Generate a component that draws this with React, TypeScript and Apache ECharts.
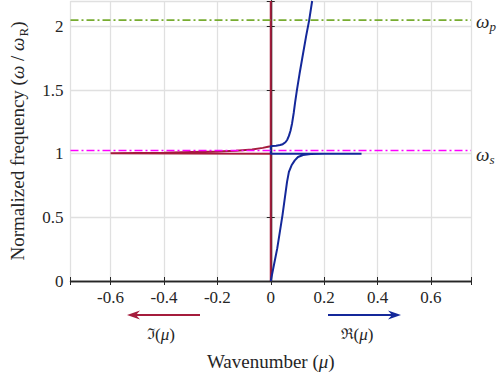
import React, { useEffect, useRef } from "react";
import * as echarts from "echarts";

// Wavenumber (x) and normalized frequency (y) samples
const redMu = [0, 0, -0.6, -0.4, -0.3, -0.2, -0.13, -0.07, -0.03, -0.01, 0, 0];
const redOmega = [0, 0.999, 1.003, 1.008, 1.013, 1.018, 1.023, 1.034, 1.046, 1.054, 1.058, 2.2];

const blueMu = [0, 0.0245, 0.044, 0.061, 0.068, 0.078, 0.09, 0.102, 0.121, 0.15, 0.2, 0.34, 0, 0, 0.006, 0.02, 0.035, 0.045, 0.055, 0.062, 0.068, 0.074, 0.08, 0.086, 0.091, 0.098, 0.108, 0.118, 0.133, 0.144, 0.155];
const blueOmega = [0, 0.258, 0.518, 0.779, 0.857, 0.909, 0.948, 0.974, 0.99, 0.997, 0.999, 1.0, 1.0, 1.058, 1.06, 1.063, 1.068, 1.075, 1.09, 1.11, 1.14, 1.18, 1.24, 1.32, 1.4, 1.5, 1.63, 1.75, 1.93, 2.05, 2.2];

const xRange = [-0.75, 0.75];
const yRange = [0, 2.2];
const omegaP = 2.05;
const omegaS = 1.025;

const RED = "#a51c3c";
const BLUE = "#14289a";
const GREEN = "#77ac30";
const MAGENTA = "#ff00ff";
const AXIS = "#262626";
const FONT = "Liberation Serif";

const zip = (a: number[], b: number[]) => a.map((v, i) => [v, b[i]]);

export default function App() {
  const ref = useRef<HTMLDivElement>(null);
  useEffect(() => {
    const chart = echarts.init(ref.current!, undefined, { renderer: "svg" });
    const xFmt = (v: number) => (Math.abs(v) > 0.7 ? "" : String(Math.round(v * 10) / 10));
    const yFmt = (v: number) => (v > 2.1 ? "" : String(v));
    const baseX = {
      type: "value",
      min: xRange[0],
      max: xRange[1],
      splitNumber: 7,
      minInterval: 0.2,
      maxInterval: 0.2,
      axisLine: { show: true, lineStyle: { color: AXIS, width: 1.3 } },
      axisTick: { show: true, inside: true, length: 4, lineStyle: { color: AXIS } },
    };
    const baseY = {
      type: "value",
      min: yRange[0],
      max: yRange[1],
      splitNumber: 5,
      minInterval: 0.5,
      maxInterval: 0.5,
      axisLine: { show: true, lineStyle: { color: AXIS, width: 1.3 } },
      axisTick: { show: true, inside: true, length: 4, lineStyle: { color: AXIS } },
    };
    const sym = {
      fontFamily: FONT,
      fontSize: 17,
      fill: AXIS,
    };
    const omegaRich = {
      i: { fontFamily: FONT, fontSize: 19, fontStyle: "italic", fill: AXIS },
      s: { fontFamily: FONT, fontSize: 13, fontStyle: "italic", fill: AXIS, padding: [10, 0, 0, 0] },
    };
    chart.setOption({
      animation: false,
      textStyle: { fontFamily: FONT },
      grid: { left: 60, top: 1, width: 411, height: 282, containLabel: false },
      xAxis: [
        {
          ...baseX,
          position: "bottom",
          axisLabel: { formatter: xFmt, color: AXIS, fontFamily: FONT, fontSize: 17, margin: 8 },
          splitLine: { show: true, lineStyle: { color: "#e0e0e0", width: 1.3 } },
          name: "{t|Wavenumber (}{i|μ}{t|)}",
          nameLocation: "middle",
          nameGap: 71,
          nameTextStyle: {
            fontFamily: FONT,
            rich: {
              t: { fontFamily: FONT, fontSize: 19, color: AXIS },
              i: { fontFamily: FONT, fontSize: 19, color: AXIS, fontStyle: "italic" },
            },
          },
        },
        {
          ...baseX,
          position: "top",
          axisLabel: { show: false },
          splitLine: { show: false },
        },
      ],
      yAxis: [
        {
          ...baseY,
          position: "left",
          axisLabel: { formatter: yFmt, color: AXIS, fontFamily: FONT, fontSize: 17, margin: 7 },
          splitLine: { show: true, lineStyle: { color: "#e0e0e0", width: 1.3 } },
          name: "{t|Normalized frequency (}{i|ω}{t| / }{i|ω}{s|R}{t|)}",
          nameLocation: "middle",
          nameGap: 41,
          nameTextStyle: {
            fontFamily: FONT,
            rich: {
              t: { fontFamily: FONT, fontSize: 19, color: AXIS },
              i: { fontFamily: FONT, fontSize: 19, color: AXIS, fontStyle: "italic" },
              s: { fontFamily: FONT, fontSize: 13, color: AXIS, padding: [11, 0, 0, 1] },
            },
          },
        },
        {
          ...baseY,
          position: "right",
          axisLabel: { show: false },
          splitLine: { show: false },
        },
      ],
      series: [
        {
          type: "line",
          data: zip(redMu, redOmega),
          showSymbol: false,
          symbol: "none",
          lineStyle: { color: RED, width: 2 },
          z: 2,
        },
        {
          type: "line",
          data: zip(blueMu, blueOmega),
          showSymbol: false,
          symbol: "none",
          lineStyle: { color: BLUE, width: 2 },
          z: 3,
        },
        {
          type: "line",
          data: [[xRange[0], omegaP], [xRange[1], omegaP]],
          symbol: "none",
          lineStyle: { color: GREEN, width: 1.6, type: [8, 3, 2, 3] },
          z: 4,
        },
        {
          type: "line",
          data: [[xRange[0], omegaS], [xRange[1], omegaS]],
          symbol: "none",
          lineStyle: { color: MAGENTA, width: 1.6, type: [8, 3, 2, 3] },
          z: 4,
        },
      ],
      graphic: [
        { type: "line", shape: { x1: 200, y1: 315, x2: 134, y2: 315 }, style: { stroke: RED, lineWidth: 2 } },
        { type: "polygon", shape: { points: [[127, 315], [140, 310.5], [136, 315], [140, 319.5]] }, style: { fill: RED } },
        { type: "line", shape: { x1: 328, y1: 315, x2: 394, y2: 315 }, style: { stroke: BLUE, lineWidth: 2 } },
        { type: "polygon", shape: { points: [[401, 315], [388, 310.5], [392, 315], [388, 319.5]] }, style: { fill: BLUE } },
        {
          type: "text",
          x: 161,
          y: 334,
          style: {
            text: "{f|ℑ}{t|(}{i|μ}{t|)}",
            align: "center",
            verticalAlign: "middle",
            rich: {
              f: { ...sym, fontFamily: "DejaVu Serif", fontSize: 15 },
              t: sym,
              i: { ...sym, fontStyle: "italic" },
            },
          },
        },
        {
          type: "text",
          x: 357,
          y: 334,
          style: {
            text: "{f|ℜ}{t|(}{i|μ}{t|)}",
            align: "center",
            verticalAlign: "middle",
            rich: {
              f: { ...sym, fontFamily: "DejaVu Serif", fontSize: 15 },
              t: sym,
              i: { ...sym, fontStyle: "italic" },
            },
          },
        },
        {
          type: "text",
          x: 476,
          y: 21,
          style: { text: "{i|ω}{s|p}", align: "left", verticalAlign: "middle", rich: omegaRich },
        },
        {
          type: "text",
          x: 476,
          y: 154,
          style: { text: "{i|ω}{s|s}", align: "left", verticalAlign: "middle", rich: omegaRich },
        },
      ],
    });
    return () => chart.dispose();
  }, []);
  return (
    <div
      ref={ref}
      style={{ position: "fixed", left: 0, top: 0, width: 498, height: 376, background: "#fff" }}
    />
  );
}
